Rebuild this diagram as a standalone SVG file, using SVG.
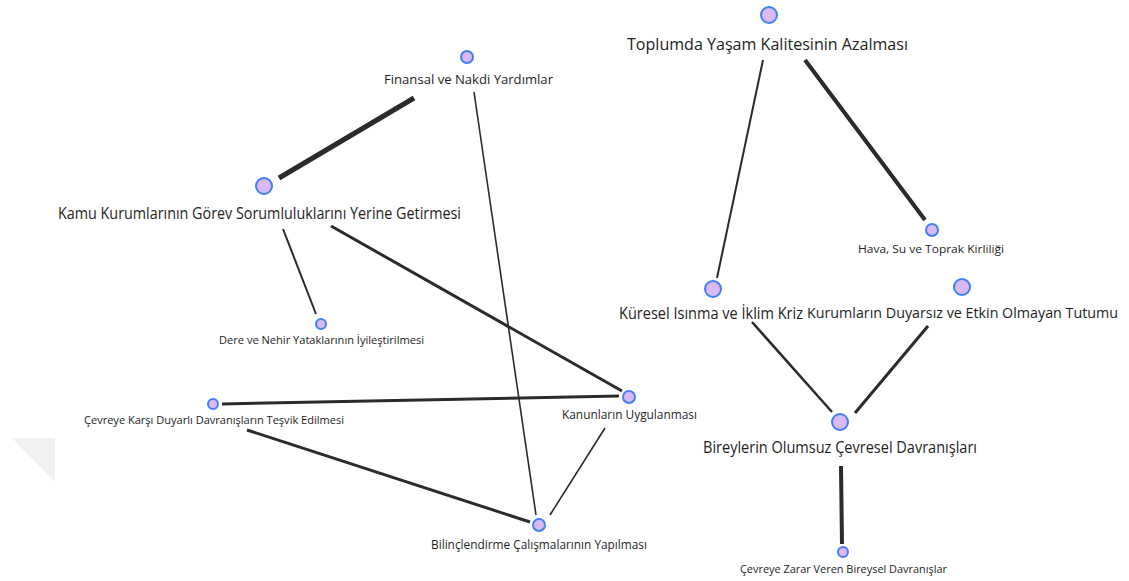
<svg xmlns="http://www.w3.org/2000/svg" width="1129" height="581" viewBox="0 0 1129 581">
<style>
.n{fill:#dab8f2;stroke:#3f80f6;stroke-width:2}
.t{font-family:"Open Sans","Noto Sans","Liberation Sans",sans-serif;fill:#1e1e1e}
.e{stroke:#2b2b2b;stroke-linecap:butt;fill:none}
</style>
<rect width="1129" height="581" fill="#fff"/>
<polygon points="12,438 55,438 55,482" fill="#f1f1f1"/>
<g id="connectors">
<line class="e" x1="414" y1="98" x2="279" y2="178" stroke-width="5"/>
<line class="e" x1="474" y1="92" x2="536" y2="515" stroke-width="1.6"/>
<line class="e" x1="283" y1="229" x2="316" y2="314" stroke-width="2"/>
<line class="e" x1="331" y1="226" x2="622" y2="391" stroke-width="3"/>
<line class="e" x1="222" y1="404" x2="619" y2="396" stroke-width="3"/>
<line class="e" x1="247" y1="430" x2="530" y2="522" stroke-width="3"/>
<line class="e" x1="605" y1="428" x2="550" y2="515" stroke-width="1.6"/>
<line class="e" x1="763" y1="60" x2="717" y2="278" stroke-width="2"/>
<line class="e" x1="805" y1="60" x2="925" y2="220" stroke-width="4"/>
<line class="e" x1="752" y1="322" x2="832" y2="412" stroke-width="2.5"/>
<line class="e" x1="928" y1="326" x2="855" y2="413" stroke-width="3"/>
<line class="e" x1="841" y1="466" x2="842" y2="544" stroke-width="4"/>
</g>
<g id="finansal"><circle class="n" cx="467" cy="57" r="6"/><text class="t" x="384" y="84" font-size="12.5" textLength="169" lengthAdjust="spacingAndGlyphs">Finansal ve Nakdi Yardımlar</text></g>
<g id="kamu"><circle class="n" cx="264" cy="186" r="8"/><text class="t" x="58" y="219" font-size="15.5" textLength="403" lengthAdjust="spacingAndGlyphs">Kamu Kurumlarının Görev Sorumluluklarını Yerine Getirmesi</text></g>
<g id="dere"><circle class="n" cx="321" cy="324" r="5"/><text class="t" x="219" y="344" font-size="11" textLength="205" lengthAdjust="spacingAndGlyphs">Dere ve Nehir Yataklarının İyileştirilmesi</text></g>
<g id="cevreye-karsi"><circle class="n" cx="213" cy="404" r="5"/><text class="t" x="84" y="424" font-size="11" textLength="260" lengthAdjust="spacingAndGlyphs">Çevreye Karşı Duyarlı Davranışların Teşvik Edilmesi</text></g>
<g id="kanunlar"><circle class="n" cx="629" cy="397" r="6"/><text class="t" x="562" y="419" font-size="12" textLength="135" lengthAdjust="spacingAndGlyphs">Kanunların Uygulanması</text></g>
<g id="bilinclendirme"><circle class="n" cx="539" cy="525" r="6"/><text class="t" x="431" y="549" font-size="12" textLength="216" lengthAdjust="spacingAndGlyphs">Bilinçlendirme Çalışmalarının Yapılması</text></g>
<g id="toplumda"><circle class="n" cx="769" cy="15" r="8"/><text class="t" x="627" y="50" font-size="17" textLength="281" lengthAdjust="spacingAndGlyphs">Toplumda Yaşam Kalitesinin Azalması</text></g>
<g id="hava"><circle class="n" cx="932" cy="230" r="6"/><text class="t" x="858" y="253" font-size="11" textLength="146" lengthAdjust="spacingAndGlyphs">Hava, Su ve Toprak Kirliliği</text></g>
<g id="kuresel"><circle class="n" cx="713" cy="289" r="8"/><text class="t" x="619" y="319" font-size="15.5" textLength="184" lengthAdjust="spacingAndGlyphs">Küresel Isınma ve İklim Kriz</text></g>
<g id="kurumlar"><circle class="n" cx="962" cy="287" r="8"/><text class="t" x="807" y="318" font-size="13.8" textLength="311" lengthAdjust="spacingAndGlyphs">Kurumların Duyarsız ve Etkin Olmayan Tutumu</text></g>
<g id="bireylerin"><circle class="n" cx="840" cy="422" r="8"/><text class="t" x="703" y="453" font-size="16" textLength="274" lengthAdjust="spacingAndGlyphs">Bireylerin Olumsuz Çevresel Davranışları</text></g>
<g id="cevreye-zarar"><circle class="n" cx="843" cy="552" r="5"/><text class="t" x="740" y="573" font-size="11" textLength="207" lengthAdjust="spacingAndGlyphs">Çevreye Zarar Veren Bireysel Davranışlar</text></g>
</svg>
